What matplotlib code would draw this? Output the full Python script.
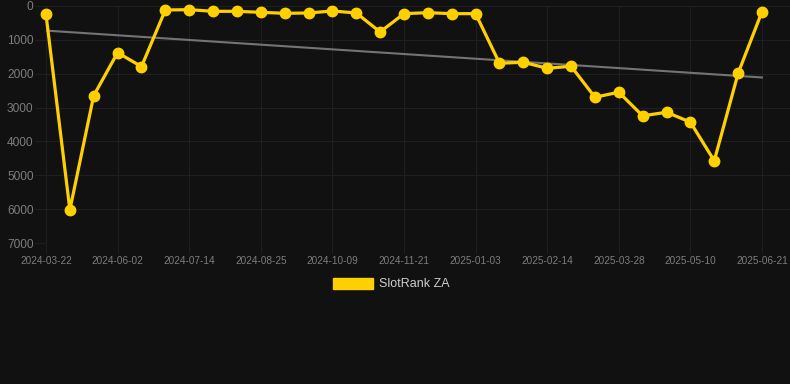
import matplotlib
matplotlib.use("Agg")
import matplotlib.pyplot as plt
import matplotlib.patches as mpatches
import numpy as np

dates = ["2024-03-22", "2024-04-15", "2024-05-09", "2024-06-02", "2024-06-16",
         "2024-06-30", "2024-07-14", "2024-07-28", "2024-08-11", "2024-08-25",
         "2024-09-10", "2024-09-25", "2024-10-09", "2024-10-23", "2024-11-07",
         "2024-11-21", "2024-12-05", "2024-12-19", "2025-01-03", "2025-01-17",
         "2025-01-31", "2025-02-14", "2025-02-28", "2025-03-14", "2025-03-28",
         "2025-04-11", "2025-04-25", "2025-05-10", "2025-05-24", "2025-06-07",
         "2025-06-21"]
ranks = [250, 6020, 2645, 1377, 1790, 118, 108, 157, 157, 187,
         216, 206, 147, 206, 767, 226, 197, 226, 226, 1691,
         1662, 1839, 1780, 2694, 2547, 3245, 3137, 3432, 4572, 1986,
         167]
series_name = "SlotRank ZA"
y_ticks = [0, 1000, 2000, 3000, 4000, 5000, 6000, 7000]

W, H = 790, 384
bg = "#111111"
grid_c = "#1f1f1f"
tick_c = "#7d7d7d"
yellow = "#FFD000"

fig = plt.figure(figsize=(W / 100, H / 100), dpi=100, facecolor=bg)
left, right, top, bottom = 46, 790, 6, 243
ax = fig.add_axes([left / W, 1 - bottom / H, (right - left) / W, (bottom - top) / H])
ax.set_facecolor(bg)

x = np.arange(len(ranks))
step = (762 - 46) / (len(ranks) - 1)
ax.set_xlim(0, (right - left) / step)
ax.set_ylim(7000, 0)

coef = np.polyfit(x, ranks, 1)
ax.plot(x, np.polyval(coef, x), color="#747474", lw=1.5, zorder=2)
ax.plot(x, ranks, color=yellow, lw=2.3, marker="o", ms=7.5, zorder=3, clip_on=False)

ax.set_yticks(y_ticks)
ax.set_yticklabels([str(v) for v in y_ticks])
tick_idx = list(range(0, len(dates), 3))
ax.set_xticks(tick_idx)
ax.set_xticklabels([dates[i] for i in tick_idx])

ax.grid(True, color=grid_c, lw=0.8)
ax.set_axisbelow(True)
for s in ax.spines.values():
    s.set_visible(False)
ax.tick_params(axis="x", colors=grid_c, length=7, width=0.8, labelcolor=tick_c,
               labelsize=7.2, pad=2)
ax.tick_params(axis="y", colors=grid_c, length=8, width=0.8, labelcolor=tick_c,
               labelsize=8.6, pad=1)
for lab in ax.get_xticklabels() + ax.get_yticklabels():
    lab.set_fontfamily("Liberation Sans")

# legend
fig.patches.append(mpatches.Rectangle((333 / W, 1 - 289 / H), 40 / W, 11 / H,
                                      transform=fig.transFigure, facecolor=yellow,
                                      edgecolor=yellow, figure=fig))
fig.text(379 / W, 1 - 284 / H, series_name, color="#cccccc", fontsize=9,
         family="Liberation Sans", va="center", ha="left")

fig.savefig("out.png", dpi=100, facecolor=bg)
